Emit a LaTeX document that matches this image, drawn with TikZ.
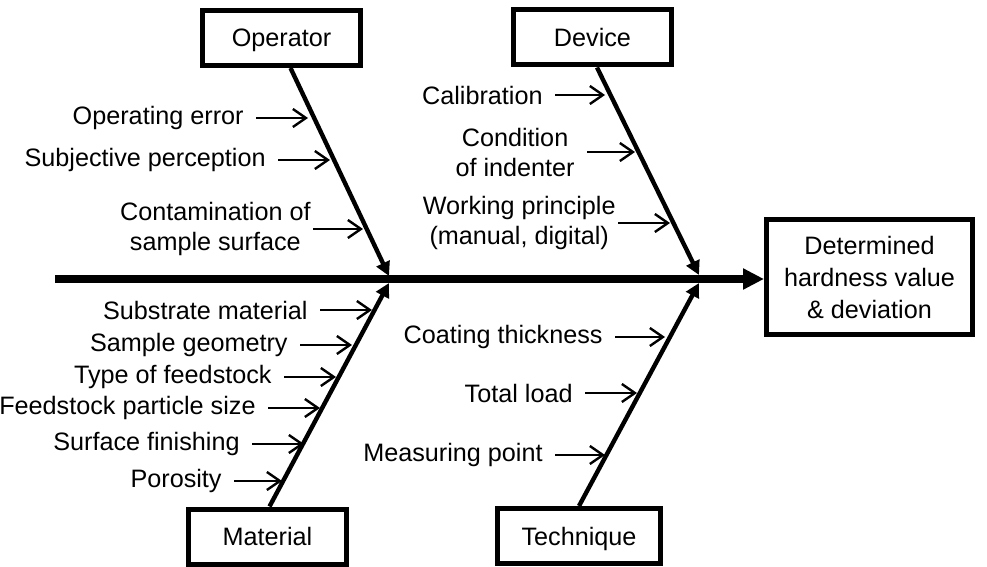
\documentclass[tikz,border=0pt]{standalone}
\usepackage{fontspec}
\setmainfont{Liberation Sans}
\usetikzlibrary{positioning,arrows.meta}

\begin{document}
\begin{tikzpicture}[x=0.5pt,y=-0.5pt]
\tikzstyle{every node}=[font=\fontsize{12.6}{15}\selectfont]
\tikzstyle{category}=[draw,line width=2.5pt,minimum width=79pt,minimum height=27.5pt,
  text height=9pt,text depth=0pt]
\tikzstyle{effect}=[draw,line width=2.5pt,minimum width=103pt,minimum height=57.5pt,
  align=center,font=\fontsize{12.6}{16}\selectfont]
\tikzstyle{cause}=[align=center,inner sep=1pt]
\tikzstyle{spine}=[line width=4pt,-{Triangle[length=10.5pt,width=10pt]}]
\tikzstyle{bone}=[line width=2.2pt,-{Triangle[length=7pt,width=7pt]}]
\tikzstyle{causearrow}=[line width=1.2pt,shorten <=5pt,
  -{Straight Barb[length=6.5pt,width=9pt]}]
\useasboundingbox (0,0) rectangle (987,567);

%% Category boxes and effect
\node[category] (op) at (281.5,38) {Operator};
\node[category] (dv) at (592.5,37.5) {Device};
\node[category] (mt) at (267.5,536.5) {Material};
\node[category,minimum width=81.5pt] (tq) at (579,536) {Technique};
\node[effect] (res) at (869.5,277) {Determined\\hardness value\\\& deviation};

%% Main spine
\coordinate (tail) at (55,279);
\draw[spine] (tail) -- (tail -| res.west);

%% Bones
\coordinate (opend) at (389,276);
\coordinate (dvend) at (699,275);
\coordinate (mtend) at (389,283);
\coordinate (tqend) at (699,283);
\draw[bone] ([xshift=4.5pt]op.south) -- (opend);
\draw[bone] ([xshift=2.25pt]dv.south) -- (dvend);
\draw[bone] ([xshift=1pt]mt.north) -- (mtend);
\draw[bone] (tq.north) -- (tqend);

%% Operator causes
\coordinate (op1t) at (308,118);
\coordinate (op2t) at (330,160);
\coordinate (op3t) at (363,229);
\node[cause,left=31pt of op1t] (op1) {Operating error};
\node[cause,left=31pt of op2t] (op2) {Subjective perception};
\node[cause,left=25pt of op3t] (op3) {Contamination of\\sample surface};
\draw[causearrow] (op1) -- (op1t);
\draw[causearrow] (op2) -- (op2t);
\draw[causearrow,shorten <=0pt] (op3) -- (op3t);

%% Device causes
\coordinate (dv1t) at (605,95);
\coordinate (dv2t) at (635,152);
\coordinate (dv3t) at (670,223);
\node[cause,left=30pt of dv1t] (dv1) {Calibration};
\node[cause,left=29pt of dv2t] (dv2) {Condition\\of indenter};
\node[cause,left=26pt of dv3t] (dv3) {Working principle\\(manual, digital)};
\draw[causearrow] (dv1) -- (dv1t);
\draw[causearrow] (dv2) -- (dv2t);
\draw[causearrow,shorten <=0pt] (dv3) -- (dv3t);

%% Material causes
\coordinate (mt1t) at (372,310);
\coordinate (mt2t) at (352,345);
\coordinate (mt3t) at (336,377);
\coordinate (mt4t) at (320,408);
\coordinate (mt5t) at (304,444);
\coordinate (mt6t) at (282,481);
\node[cause,left=31pt of mt1t] (mt1) {Substrate material};
\node[cause,left=31pt of mt2t] (mt2) {Sample geometry};
\node[cause,left=31pt of mt3t] (mt3) {Type of feedstock};
\node[cause,left=31pt of mt4t] (mt4) {Feedstock particle size};
\node[cause,left=31pt of mt5t] (mt5) {Surface finishing};
\node[cause,left=29pt of mt6t] (mt6) {Porosity};
\draw[causearrow] (mt1) -- (mt1t);
\draw[causearrow] (mt2) -- (mt2t);
\draw[causearrow] (mt3) -- (mt3t);
\draw[causearrow] (mt4) -- (mt4t);
\draw[causearrow] (mt5) -- (mt5t);
\draw[causearrow] (mt6) -- (mt6t);

%% Technique causes
\coordinate (tq1t) at (665,337);
\coordinate (tq2t) at (637,393);
\coordinate (tq3t) at (605,455);
\node[cause,left=30pt of tq1t] (tq1) {Coating thickness};
\node[cause,left=31pt of tq2t] (tq2) {Total load};
\node[cause,left=30pt of tq3t] (tq3) {Measuring point};
\draw[causearrow] (tq1) -- (tq1t);
\draw[causearrow] (tq2) -- (tq2t);
\draw[causearrow] (tq3) -- (tq3t);
\end{tikzpicture}
\end{document}
